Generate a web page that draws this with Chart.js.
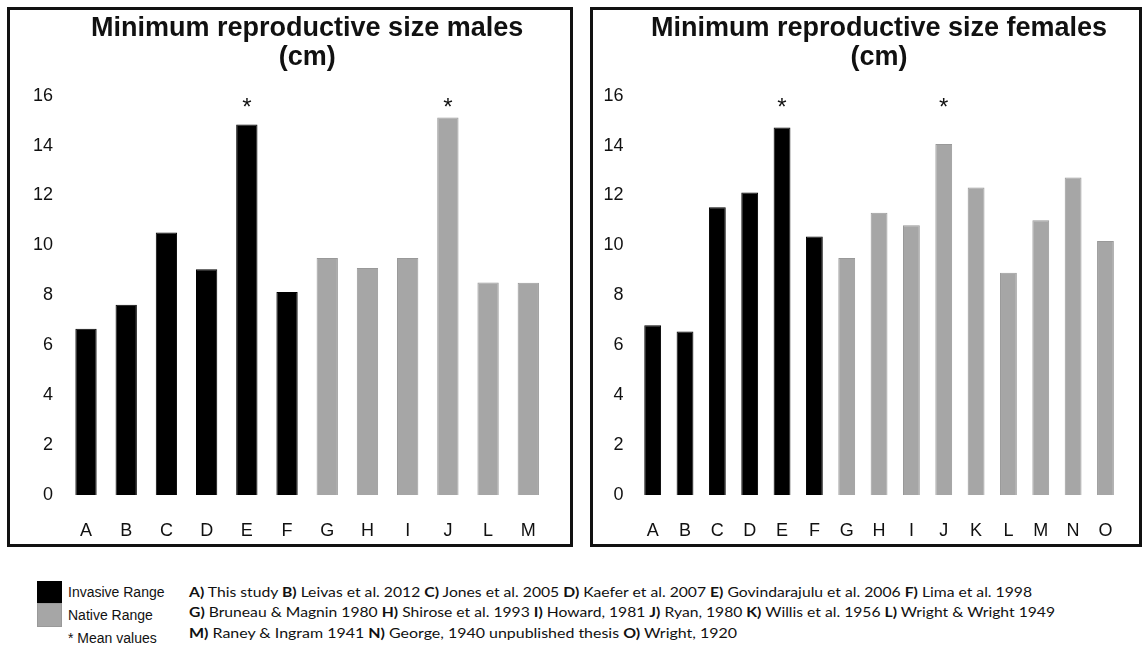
<!DOCTYPE html>
<html>
<head>
<meta charset="utf-8">
<script src="https://cdn.jsdelivr.net/npm/chart.js@4/dist/chart.umd.min.js"></script>
<style>
  html, body { margin: 0; padding: 0; background: #fff; }
  #page { position: relative; width: 1144px; height: 646px; overflow: hidden; background: #fff; }
  .panel { position: absolute; border: 3px solid #111; box-sizing: border-box; }
  .cv { position: absolute; }
  .sq { position: absolute; left: 37px; width: 25px; }
  .lg { position: absolute; left: 68px; font-family: "Liberation Sans", Arial, sans-serif; font-size: 14px; color: #111; line-height: 16px; white-space: nowrap; }
  .ref { position: absolute; left: 189px; font-family: Lato, "Open Sans", sans-serif; font-size: 14px; color: #111; line-height: 16px; white-space: nowrap; transform-origin: 0 50%; }
  .ref b { font-weight: 700; }
</style>
</head>
<body>
<div id="page">
  <div class="panel" style="left:7px; top:7px; width:566px; height:540px;"></div>
  <div class="panel" style="left:590px; top:7px; width:552px; height:540px;"></div>
  <div class="cv" style="left:10px; top:10px; width:559px; height:534px;"><canvas id="males"></canvas></div>
  <div class="cv" style="left:593px; top:10px; width:545px; height:534px;"><canvas id="females"></canvas></div>

  <div class="sq" style="top:581px; height:22px; background:#000;"></div>
  <div class="sq" style="top:603px; height:24px; background:#a6a6a6; box-sizing:border-box; border:1px solid #999;"></div>
  <div class="lg" style="top:584px;">Invasive Range</div>
  <div class="lg" style="top:607px;">Native Range</div>
  <div class="lg" style="top:630px;">* Mean values</div>

  <div class="ref" id="r1" data-w="843" style="top:584px;"><b>A)</b> This study <b>B)</b> Leivas et al. 2012 <b>C)</b> Jones et al. 2005 <b>D)</b> Kaefer et al. 2007 <b>E)</b> Govindarajulu et al. 2006 <b>F)</b> Lima et al. 1998</div>
  <div class="ref" id="r2" data-w="866" style="top:604px;"><b>G)</b> Bruneau &amp; Magnin 1980 <b>H)</b> Shirose et al. 1993 <b>I)</b> Howard, 1981 <b>J)</b> Ryan, 1980 <b>K)</b> Willis et al. 1956 <b>L)</b> Wright &amp; Wright 1949</div>
  <div class="ref" id="r3" data-w="548" style="top:625px;"><b>M)</b> Raney &amp; Ingram 1941 <b>N)</b> George, 1940 unpublished thesis <b>O)</b> Wright, 1920</div>
</div>
<script>
// ---------------- data ----------------
const maleCategories = ['A','B','C','D','E','F','G','H','I','J','L','M'];
const maleValues     = [6.66, 7.62, 10.52, 9.05, 14.85, 8.13, 9.5, 9.1, 9.5, 15.13, 8.51, 8.5];
const maleRanges     = ['invasive','invasive','invasive','invasive','invasive','invasive','native','native','native','native','native','native'];
const maleMeanMarks  = ['E','J'];

const femaleCategories = ['A','B','C','D','E','F','G','H','I','J','K','L','M','N','O'];
const femaleValues     = [6.8, 6.55, 11.53, 12.12, 14.73, 10.36, 9.5, 11.31, 10.81, 14.06, 12.32, 8.91, 11.01, 12.72, 10.18];
const femaleRanges     = ['invasive','invasive','invasive','invasive','invasive','invasive','native','native','native','native','native','native','native','native','native'];
const femaleMeanMarks  = ['E','J'];

const yTickValues = [0, 2, 4, 6, 8, 10, 12, 14, 16];
const meanMarkLevel = 15.7;

const rangeFill   = { invasive: '#000000', native: '#a6a6a6' };
const rangeBorder = { invasive: '#000000', native: '#999999' };

// ---------------- charts ----------------
const starPlugin = {
  id: 'meanStars',
  afterDatasetsDraw(chart, args, opts) {
    const ctx = chart.ctx;
    const xs = chart.scales.x, ys = chart.scales.y;
    ctx.save();
    ctx.fillStyle = '#111';
    ctx.font = '24px "Liberation Sans", Arial, sans-serif';
    ctx.textAlign = 'center';
    ctx.textBaseline = 'alphabetic';
    (opts.marks || []).forEach(c => {
      const x = xs.getPixelForValue(chart.data.labels.indexOf(c));
      const y = ys.getPixelForValue(meanMarkLevel);
      ctx.fillText('*', x, y + 12);
    });
    ctx.restore();
  }
};

function makeChart(id, title, cats, vals, ranges, marks, cfg) {
  return new Chart(document.getElementById(id), {
    type: 'bar',
    data: {
      labels: cats,
      datasets: [{
        data: vals,
        backgroundColor: ranges.map(r => rangeFill[r]),
        borderColor: ranges.map(r => rangeBorder[r]),
        borderWidth: 1,
        categoryPercentage: 1,
        barPercentage: cfg.barPct
      }]
    },
    options: {
      responsive: true,
      maintainAspectRatio: false,
      animation: false,
      events: [],
      layout: { padding: { left: 0, right: cfg.padRight, top: 0, bottom: 0 } },
      plugins: {
        legend: { display: false },
        tooltip: { enabled: false },
        meanStars: { marks: marks },
        title: {
          display: true,
          text: title,
          fullSize: false,
          color: '#111',
          font: { family: '"Liberation Sans", Arial, sans-serif', size: 27, weight: 'bold', lineHeight: 1.1 },
          padding: { top: 3.2, bottom: 23.1 }
        }
      },
      scales: {
        x: {
          grid: { display: false, drawTicks: false },
          border: { display: false },
          ticks: { color: '#111', padding: 25, font: { family: '"Liberation Sans", Arial, sans-serif', size: 18 } },
          afterFit(s) { s.height = 49; }
        },
        y: {
          min: 0, max: 16,
          grid: { display: false, drawTicks: false },
          border: { display: false },
          afterBuildTicks(s) { s.ticks = yTickValues.map(v => ({ value: v })); },
          ticks: { color: '#111', padding: 13, font: { family: '"Liberation Sans", Arial, sans-serif', size: 18 } },
          afterFit(s) { s.width = cfg.yWidth; }
        }
      }
    },
    plugins: [starPlugin]
  });
}

makeChart('males', ['Minimum reproductive size males', '(cm)'], maleCategories, maleValues, maleRanges, maleMeanMarks,
  { barPct: 0.53, padRight: 20.6, yWidth: 55.9 });
makeChart('females', ['Minimum reproductive size females', '(cm)'], femaleCategories, femaleValues, femaleRanges, femaleMeanMarks,
  { barPct: 0.52, padRight: 15.3, yWidth: 43.5 });

// fit citation lines to the reference widths
document.querySelectorAll('.ref').forEach(el => {
  const w = el.getBoundingClientRect().width;
  const target = parseFloat(el.dataset.w);
  el.style.transform = 'scaleX(' + (target / w) + ')';
});
</script>
</body>
</html>
